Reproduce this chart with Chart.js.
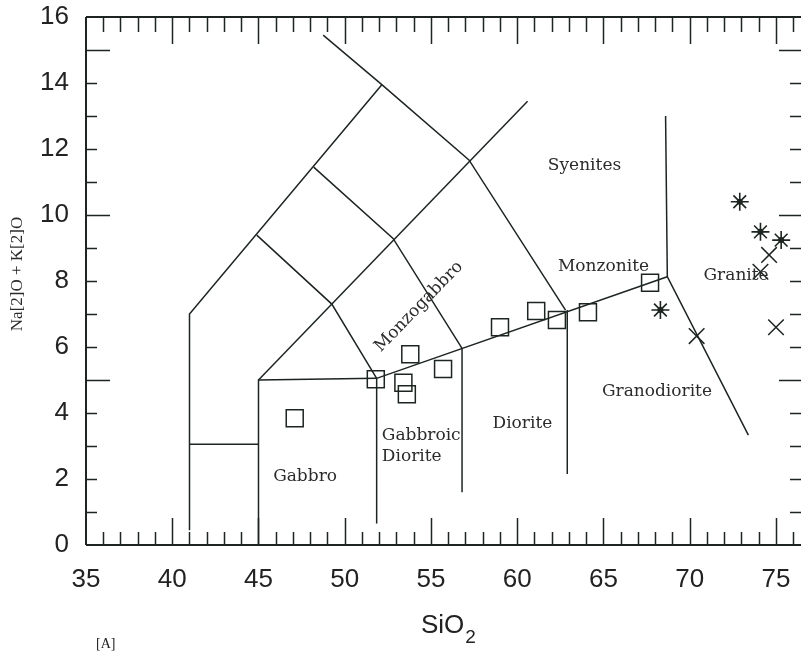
<!DOCTYPE html>
<html>
<head>
<meta charset="utf-8">
<script src="https://cdn.jsdelivr.net/npm/chart.js@4.4.1/dist/chart.umd.min.js"></script>
<style>
  html, body { margin: 0; padding: 0; background: #fff; }
  #tas { display: block; }
</style>
</head>
<body>
<canvas id="tas" width="801" height="652"></canvas>
<script>
// sample points
const squareSi = [47.1, 51.8, 53.4, 53.6, 53.8, 55.7, 59.0, 61.1, 62.3, 64.1, 67.7];
const squareAlk = [3.84, 5.02, 4.92, 4.57, 5.78, 5.33, 6.6, 7.09, 6.82, 7.05, 7.95];
const starSi = [68.3, 72.9, 74.1, 75.3];
const starAlk = [7.12, 10.4, 9.49, 9.24];
const crossSi = [70.4, 74.1, 74.6, 75.0];
const crossAlk = [6.33, 8.28, 8.79, 6.6];

// field boundaries (SiO2, Na2O+K2O)
const fieldLines = [
  [[41, 0.45], [41, 7], [52.15, 13.95]],
  [[41, 3.05], [45, 3.05]],
  [[45, 0], [45, 5], [51.85, 5.05], [68.7, 8.13], [73.4, 3.33]],
  [[45, 5], [60.6, 13.45]],
  [[44.9, 9.39], [49.25, 7.3], [51.85, 5.05]],
  [[48.2, 11.45], [52.8, 9.29], [56.8, 5.96]],
  [[48.75, 15.45], [52.15, 13.95], [57.2, 11.67], [62.8, 7.12]],
  [[51.85, 0.65], [51.85, 5.05]],
  [[56.8, 1.6], [56.8, 5.96]],
  [[62.9, 2.15], [62.9, 7.12]],
  [[68.6, 13.0], [68.7, 8.13]]
];

// field names: text, SiO2, alkali, rotation (deg), align
const fieldNames = [
  ["Syenites", 63.9, 11.5, 0, "center"],
  ["Monzonite", 65.0, 8.43, 0, "center"],
  ["Granite", 70.8, 8.15, 0, "left"],
  ["Monzogabbro", 54.3, 7.22, -46, "center"],
  ["Gabbroic", 52.15, 3.31, 0, "left"],
  ["Diorite", 52.15, 2.68, 0, "left"],
  ["Gabbro", 47.7, 2.07, 0, "center"],
  ["Diorite", 60.3, 3.67, 0, "center"],
  ["Granodiorite", 68.1, 4.64, 0, "center"]
];

const xMin = 35, xMax = 76.45, yMin = 0, yMax = 16;
const ink = "#1d2520";

function toPoints(xs, ys) {
  return xs.map((x, i) => ({ x: x, y: ys[i] }));
}

let datasets = [
  {
    data: toPoints(squareSi, squareAlk),
    pointStyle: "rect", pointRadius: 12, borderColor: ink, borderWidth: 1.5,
    backgroundColor: "rgba(0,0,0,0)", order: 0
  },
  {
    data: toPoints(starSi, starAlk),
    pointStyle: "star", pointRadius: 9, borderColor: ink, borderWidth: 1.6,
    backgroundColor: ink, order: 0
  },
  {
    data: toPoints(starSi, starAlk),
    pointStyle: "circle", pointRadius: 3, borderColor: ink, borderWidth: 0,
    backgroundColor: ink, order: 0
  },
  {
    data: toPoints(crossSi, crossAlk),
    pointStyle: "crossRot", pointRadius: 11, borderColor: ink, borderWidth: 1.5,
    backgroundColor: ink, order: 0
  }
];

fieldLines.forEach((line) => {
  datasets.push({
    data: line.map((p) => ({ x: p[0], y: p[1] })),
    showLine: true, pointRadius: 0, borderColor: ink, borderWidth: 1.5,
    fill: false, tension: 0, order: 1
  });
});

// inward ticks, frame and labels
const tasDecor = {
  id: "tasDecor",
  afterDatasetsDraw(chart) {
    const ctx = chart.ctx;
    const xs = chart.scales.x, ys = chart.scales.y;
    const a = chart.chartArea;
    ctx.save();
    ctx.strokeStyle = ink;
    ctx.lineWidth = 2;
    ctx.beginPath();
    ctx.moveTo(a.left, a.top); ctx.lineTo(a.right, a.top);
    ctx.moveTo(a.left, a.top); ctx.lineTo(a.left, a.bottom);
    ctx.moveTo(a.left, a.bottom); ctx.lineTo(a.right, a.bottom);
    ctx.stroke();

    ctx.lineWidth = 1.5;
    ctx.beginPath();
    for (let v = 36; v <= 76; v++) {
      const px = Math.round(xs.getPixelForValue(v)) + 0.5;
      const major = v % 5 === 0;
      ctx.moveTo(px, a.bottom); ctx.lineTo(px, a.bottom - (major ? 27 : 13));
      ctx.moveTo(px, a.top); ctx.lineTo(px, a.top + (major ? 27 : 15));
    }
    for (let v = 1; v <= 15; v++) {
      const py = Math.round(ys.getPixelForValue(v)) + 0.5;
      const major = v % 5 === 0;
      ctx.moveTo(a.left, py); ctx.lineTo(a.left + (major ? 24 : 11), py);
      ctx.moveTo(a.right, py); ctx.lineTo(a.right - (major ? 22 : 11), py);
    }
    ctx.stroke();

    ctx.fillStyle = "#2b2b2b";
    ctx.font = "17px 'DejaVu Serif'";
    ctx.textBaseline = "middle";
    fieldNames.forEach((f) => {
      ctx.save();
      ctx.translate(xs.getPixelForValue(f[1]), ys.getPixelForValue(f[2]));
      ctx.rotate(f[3] * Math.PI / 180);
      ctx.textAlign = f[4];
      ctx.fillText(f[0], 0, 0);
      ctx.restore();
    });

    // y axis title
    ctx.save();
    ctx.translate(18, 274);
    ctx.rotate(-Math.PI / 2);
    ctx.textAlign = "center";
    ctx.font = "17px 'Liberation Serif'";
    ctx.fillText("Na[2]O + K[2]O", 0, 0);
    ctx.restore();

    // x axis title with subscript
    ctx.fillStyle = "#222";
    ctx.textAlign = "left";
    ctx.textBaseline = "alphabetic";
    ctx.font = "26px 'Liberation Sans'";
    ctx.fillText("SiO", 421, 633);
    const w = ctx.measureText("SiO").width;
    ctx.font = "19px 'Liberation Sans'";
    ctx.fillText("2", 421 + w + 1, 643);

    ctx.font = "14px 'Liberation Serif'";
    ctx.fillText("[A]", 96, 648);
    ctx.restore();
  }
};

new Chart(document.getElementById("tas"), {
  type: "scatter",
  data: { datasets: datasets },
  options: {
    responsive: false,
    animation: false,
    devicePixelRatio: 1,
    layout: { autoPadding: false, padding: { top: 17, right: 0, left: 0, bottom: 0 } },
    plugins: { legend: { display: false }, tooltip: { enabled: false } },
    scales: {
      x: {
        type: "linear", min: xMin, max: xMax,
        afterFit(scale) {
          scale.height = 107;
          scale.paddingRight = 0;
          scale.paddingLeft = 0;
        },
        grid: { display: false, drawTicks: false },
        border: { display: false },
        ticks: {
          stepSize: 5, padding: 19, color: "#222", includeBounds: false,
          font: { family: "'Liberation Sans'", size: 26 }
        }
      },
      y: {
        type: "linear", min: yMin, max: yMax,
        afterFit(scale) {
          scale.width = 86;
          scale.paddingTop = 0;
          scale.paddingBottom = 0;
        },
        grid: { display: false, drawTicks: false },
        border: { display: false },
        ticks: {
          stepSize: 2, padding: 17, color: "#222",
          font: { family: "'Liberation Sans'", size: 26 }
        }
      }
    }
  },
  plugins: [tasDecor]
});
</script>
</body>
</html>
